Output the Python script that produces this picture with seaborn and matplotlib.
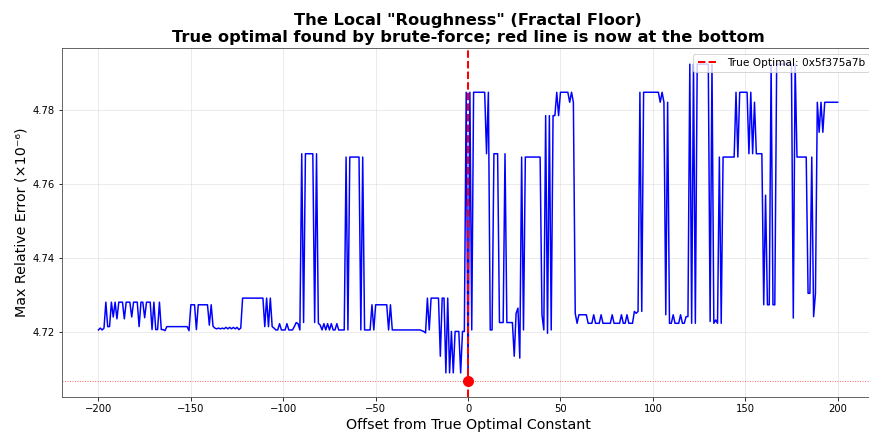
import numpy as np
import pandas as pd
import matplotlib
matplotlib.use("Agg")
import matplotlib.pyplot as plt
import seaborn as sns

# Offsets from the true optimal constant
offsets = list(range(-200, 201))

# Max relative error (x1e-6), one value per offset
errors = [
    # -200 .. -191
    4.7205, 4.7210, 4.7205, 4.7210, 4.7280, 4.7214, 4.7214, 4.7280, 4.7240, 4.7280,
    # -190 .. -181
    4.7235, 4.7280, 4.7280, 4.7280, 4.7235, 4.7280, 4.7280, 4.7280, 4.7240, 4.7280,
    # -180 .. -171
    4.7280, 4.7280, 4.7214, 4.7280, 4.7280, 4.7238, 4.7280, 4.7280, 4.7280, 4.7206,
    # -170 .. -161
    4.7280, 4.7206, 4.7206, 4.7280, 4.7206, 4.7206, 4.7203, 4.7214, 4.7214, 4.7214,
    # -160 .. -151
    4.7214, 4.7214, 4.7214, 4.7214, 4.7214, 4.7214, 4.7214, 4.7214, 4.7214, 4.7203,
    # -150 .. -141
    4.7273, 4.7273, 4.7273, 4.7206, 4.7273, 4.7273, 4.7273, 4.7273, 4.7273, 4.7273,
    # -140 .. -131
    4.7218, 4.7273, 4.7215, 4.7210, 4.7208, 4.7210, 4.7208, 4.7210, 4.7208, 4.7212,
    # -130 .. -121
    4.7208, 4.7212, 4.7208, 4.7212, 4.7208, 4.7212, 4.7206, 4.7210, 4.7291, 4.7291,
    # -120 .. -111
    4.7291, 4.7291, 4.7291, 4.7291, 4.7291, 4.7291, 4.7291, 4.7291, 4.7291, 4.7291,
    # -110 .. -101
    4.7214, 4.7291, 4.7214, 4.7291, 4.7214, 4.7210, 4.7205, 4.7205, 4.7222, 4.7205,
    # -100 .. -91
    4.7205, 4.7205, 4.7222, 4.7205, 4.7205, 4.7205, 4.7214, 4.7225, 4.7222, 4.7205,
    # -90 .. -81
    4.7681, 4.7225, 4.7681, 4.7681, 4.7681, 4.7681, 4.7681, 4.7225, 4.7681, 4.7223,
    # -80 .. -71
    4.7218, 4.7205, 4.7222, 4.7205, 4.7222, 4.7205, 4.7222, 4.7205, 4.7205, 4.7222,
    # -70 .. -61
    4.7205, 4.7205, 4.7205, 4.7205, 4.7672, 4.7205, 4.7672, 4.7672, 4.7672, 4.7672,
    # -60 .. -51
    4.7672, 4.7672, 4.7205, 4.7672, 4.7205, 4.7205, 4.7205, 4.7205, 4.7273, 4.7205,
    # -50 .. -41
    4.7273, 4.7273, 4.7273, 4.7273, 4.7273, 4.7273, 4.7273, 4.7205, 4.7273, 4.7205,
    # -40 .. -31
    4.7205, 4.7205, 4.7205, 4.7205, 4.7205, 4.7205, 4.7205, 4.7205, 4.7205, 4.7205,
    # -30 .. -21
    4.7205, 4.7205, 4.7205, 4.7205, 4.7205, 4.7203, 4.7201, 4.7197, 4.7291, 4.7205,
    # -20 .. -11
    4.7291, 4.7291, 4.7291, 4.7291, 4.7291, 4.7134, 4.7291, 4.7291, 4.7089, 4.7291,
    # -10 .. -1
    4.7089, 4.7201, 4.7089, 4.7201, 4.7201, 4.7201, 4.7089, 4.7201, 4.7201, 4.7847,
    # 0 .. 9
    4.7068, 4.7847, 4.7205, 4.7847, 4.7847, 4.7847, 4.7847, 4.7847, 4.7847, 4.7847,
    # 10 .. 19
    4.7681, 4.7847, 4.7205, 4.7205, 4.7681, 4.7681, 4.7681, 4.7225, 4.7225, 4.7225,
    # 20 .. 29
    4.7681, 4.7225, 4.7225, 4.7225, 4.7225, 4.7134, 4.7250, 4.7264, 4.7129, 4.7672,
    # 30 .. 39
    4.7205, 4.7672, 4.7672, 4.7672, 4.7672, 4.7672, 4.7672, 4.7672, 4.7672, 4.7672,
    # 40 .. 49
    4.7246, 4.7205, 4.7784, 4.7196, 4.7784, 4.7205, 4.7784, 4.7784, 4.7847, 4.7784,
    # 50 .. 59
    4.7847, 4.7847, 4.7847, 4.7847, 4.7847, 4.7820, 4.7847, 4.7820, 4.7250, 4.7223,
    # 60 .. 69
    4.7246, 4.7246, 4.7246, 4.7246, 4.7246, 4.7223, 4.7223, 4.7223, 4.7246, 4.7223,
    # 70 .. 79
    4.7223, 4.7223, 4.7246, 4.7223, 4.7223, 4.7223, 4.7223, 4.7223, 4.7246, 4.7223,
    # 80 .. 89
    4.7223, 4.7223, 4.7223, 4.7246, 4.7223, 4.7223, 4.7246, 4.7223, 4.7223, 4.7223,
    # 90 .. 99
    4.7255, 4.7250, 4.7255, 4.7847, 4.7255, 4.7847, 4.7847, 4.7847, 4.7847, 4.7847,
    # 100 .. 109
    4.7847, 4.7847, 4.7847, 4.7847, 4.7820, 4.7847, 4.7820, 4.7246, 4.7820, 4.7223,
    # 110 .. 119
    4.7223, 4.7246, 4.7223, 4.7223, 4.7223, 4.7246, 4.7223, 4.7223, 4.7241, 4.7241,
    # 120 .. 129
    4.7923, 4.7223, 4.7923, 4.7223, 4.7923, 4.7923, 4.7923, 4.7923, 4.7923, 4.7923,
    # 130 .. 139
    4.7923, 4.7228, 4.7923, 4.7223, 4.7232, 4.7223, 4.7672, 4.7223, 4.7672, 4.7672,
    # 140 .. 149
    4.7672, 4.7672, 4.7672, 4.7672, 4.7672, 4.7847, 4.7672, 4.7847, 4.7847, 4.7847,
    # 150 .. 159
    4.7847, 4.7847, 4.7681, 4.7847, 4.7681, 4.7820, 4.7681, 4.7681, 4.7681, 4.7681,
    # 160 .. 169
    4.7273, 4.7569, 4.7273, 4.7273, 4.7923, 4.7273, 4.7273, 4.7923, 4.7923, 4.7923,
    # 170 .. 179
    4.7923, 4.7923, 4.7923, 4.7923, 4.7923, 4.7923, 4.7237, 4.7923, 4.7672, 4.7672,
    # 180 .. 189
    4.7672, 4.7672, 4.7672, 4.7672, 4.7304, 4.7304, 4.7672, 4.7241, 4.7304, 4.7820,
    # 190 .. 199
    4.7739, 4.7820, 4.7739, 4.7820, 4.7820, 4.7820, 4.7820, 4.7820, 4.7820, 4.7820,
    # 200
    4.7820,
]

best_offset = 0
best_error = 4.7068
legend_label = "True Optimal: 0x5f375a7b"
title_text = 'The Local "Roughness" (Fractal Floor)\nTrue optimal found by brute-force; red line is now at the bottom'
x_label = "Offset from True Optimal Constant"
y_label = "Max Relative Error (×10⁻⁶)"

df = pd.DataFrame({"offset": offsets, "error": errors})

W, H, DPI = 869, 433, 72
fig = plt.figure(figsize=(W / DPI, H / DPI), dpi=DPI)
left, right, top, bottom = 61.5, 874.6, 48.3, 396.5
ax = fig.add_axes([left / W, (H - bottom) / H, (right - left) / W, (bottom - top) / H])

sns.lineplot(data=df, x="offset", y="error", ax=ax, color="blue", linewidth=1.5)
ax.axvline(best_offset, color="red", linestyle="--", linewidth=2, label=legend_label)
ax.scatter([best_offset], [best_error], color="red", s=100, zorder=5)
ax.axhline(best_error, color="red", linestyle=(0, (1, 1.5)), linewidth=1.0, alpha=0.55)

ax.set_title(title_text, fontsize=16.3, fontweight="bold")
ax.set_xlabel(x_label, fontsize=14.2)
ax.set_ylabel(y_label, fontsize=14.2)
ax.tick_params(labelsize=10)
for sp in ax.spines.values():
    sp.set_color("#444444")
ax.grid(True, alpha=0.3)
ax.legend(loc="upper right", fontsize=10.5)

fig.savefig("out.png", dpi=DPI)
